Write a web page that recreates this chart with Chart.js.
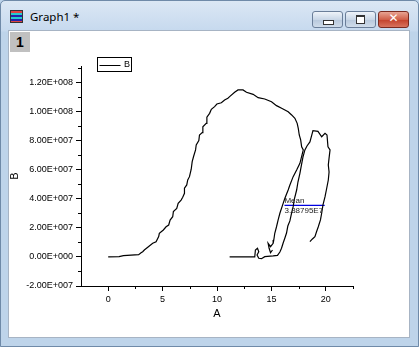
<!DOCTYPE html>
<html>
<head>
<meta charset="utf-8">
<script src="https://cdn.jsdelivr.net/npm/chart.js@4"></script>
<style>
  html, body { margin:0; padding:0; width:419px; height:347px; overflow:hidden; background:#bcd3ea; }
  #win { position:absolute; left:0; top:0; width:417px; height:345px; border:1px solid #6f8aa8; border-radius:5px 5px 0 0;
         background:linear-gradient(#dbe7f4 0px, #c6d9ee 30px, #bed4ea 31px, #bed4ea 100%); }
  #title { position:absolute; left:30px; top:9px; font:11.5px "Noto Sans","DejaVu Sans",sans-serif; color:#000; }
  #icon { position:absolute; left:10px; top:10px; width:11px; height:11px; border:1px solid #333;
          background:linear-gradient(#d44 0 2px,#2cc 2px 4px,#22a 4px 6px,#2cc 6px 8px,#22a 8px 10px,#d44 10px); }
  .btn { position:absolute; top:11px; width:29px; height:15px; border:1px solid #6a7e99; border-radius:3px;
         background:linear-gradient(#eef3f9,#c9d7e7 50%,#b7c8dc 51%,#cfdcea); }
  #bmin { left:312px; } #bmax { left:345px; }
  #bclose { left:378px; border-color:#7a2a20; background:linear-gradient(#e8a493,#d0604a 50%,#c2402a 51%,#d8735e); }
  #bmin::after { content:""; position:absolute; left:10px; top:8px; width:9px; height:3px; border:1px solid #333; background:#fff; }
  #bmax::after { content:""; position:absolute; left:10px; top:3px; width:7px; height:6px; border:1px solid #333; border-top-width:2px; background:#fff; }
  #bclose::after { content:"\2715"; position:absolute; left:0; width:29px; top:-1px; text-align:center; color:#fff; font:bold 12px "DejaVu Sans",sans-serif; }
  #page { position:absolute; left:8px; top:30px; width:400px; height:306px; background:#fff; border:1px solid #a7b4c4; }
  #tab { position:absolute; left:10px; top:32px; width:20px; height:20px; background:#c0c0c0;
         font:bold 14px "Liberation Sans",Arial,sans-serif; color:#000; text-align:center; line-height:20px; }
  #c { position:absolute; left:0; top:0; }
</style>
</head>
<body>
<div id="win"></div>
<div id="icon"></div>
<div id="title">Graph1 *</div>
<div class="btn" id="bmin"></div>
<div class="btn" id="bmax"></div>
<div class="btn" id="bclose"></div>
<div id="page"></div>
<div id="tab">1</div>
<canvas id="c" width="419" height="347"></canvas>
<script>
// ---- data ----
const seriesName = "B";
const xTitle = "A";
const yTitle = "B";

// first branch (rising bell, descending back)
const xB1 = [0, 1.0, 1.4, 2.8, 3.02, 3.17, 3.32, 3.78, 4.09, 4.40, 4.64, 4.70, 5.07, 5.32, 5.56, 5.69, 5.93, 5.99, 6.30, 6.43,
             6.70, 6.85, 7.01, 7.01, 7.22, 7.31, 7.47, 7.63, 7.72, 7.84, 8.03, 8.09, 8.33, 8.39, 8.64, 8.70, 9.01, 9.07, 9.32, 9.48,
             9.78, 9.99, 10.4, 10.7, 11.0, 11.16, 11.62, 11.93, 12.39, 12.71, 13.32, 13.78, 14.39, 15.01, 15.47, 15.94, 16.54, 16.86,
             17.16, 17.37, 17.47, 17.56, 17.69, 17.78, 17.93, 17.62, 17.32, 17.0, 16.7, 16.54, 16.24, 16.08, 15.78, 15.62, 15.47,
             15.31, 15.22, 15.16, 14.92, 14.7, 14.79, 14.92, 15.1];
const yB1 = [0, 0.02e7, 0.09e7, 0.16e7, 0.29e7, 0.36e7, 0.48e7, 0.75e7, 0.94e7, 1.05e7, 1.40e7, 1.63e7, 1.86e7, 2.08e7, 2.20e7, 2.54e7, 2.77e7, 3.12e7, 3.35e7, 3.69e7,
             3.92e7, 4.11e7, 4.38e7, 4.73e7, 4.96e7, 5.30e7, 5.53e7, 6.04e7, 6.56e7, 6.90e7, 7.37e7, 7.71e7, 8.01e7, 8.40e7, 8.56e7, 8.97e7, 9.20e7, 9.62e7, 9.89e7, 10.17e7,
             10.35e7, 10.53e7, 10.62e7, 10.81e7, 10.93e7, 11.04e7, 11.34e7, 11.50e7, 11.50e7, 11.34e7, 11.20e7, 10.97e7, 10.88e7, 10.69e7, 10.42e7, 10.24e7, 10.00e7, 9.78e7,
             9.55e7, 9.20e7, 8.86e7, 8.40e7, 8.06e7, 7.59e7, 7.37e7, 6.45e7, 5.99e7, 5.53e7, 4.96e7, 4.61e7, 4.04e7, 3.69e7, 3.01e7, 2.55e7, 2.08e7,
             1.63e7, 1.17e7, 0.94e7, 0.71e7, 0.94e7, 0.60e7, 0.29e7, 0.48e7];

// second branch (flat start, loop, rise, hook back down)
const xB2 = [11.16, 13.47, 13.53, 13.72, 13.84, 13.68, 13.84, 14.09, 14.39, 15.16, 15.56, 15.78, 15.93, 16.08, 16.24, 16.39, 16.51, 16.7,
             16.86, 17.0, 17.11, 17.32, 17.44, 17.62, 17.76, 17.9, 18.08, 18.27, 18.54, 18.82, 19.28, 19.62, 19.93, 20.11, 20.2, 20.39,
             20.3, 20.23, 20.3, 20.23, 20.07, 19.93, 19.74, 19.62, 19.51, 19.31, 19.14, 19.0, 18.77, 18.54];
const yB2 = [0, 0, 0.48e7, 0.60e7, 0.36e7, 0.13e7, -0.09e7, -0.12e7, 0.02e7, 0.07e7, 0.11e7, 0.34e7, 0.60e7, 0.96e7, 1.31e7, 1.65e7, 2.13e7, 2.48e7,
             3.03e7, 3.46e7, 3.99e7, 4.61e7, 5.16e7, 5.76e7, 6.33e7, 6.88e7, 7.37e7, 7.64e7, 7.92e7, 8.70e7, 8.65e7, 8.28e7, 8.51e7, 8.40e7, 7.59e7, 7.37e7,
             6.81e7, 6.33e7, 5.85e7, 5.30e7, 4.68e7, 4.15e7, 3.58e7, 3.01e7, 2.55e7, 2.08e7, 1.72e7, 1.40e7, 1.24e7, 1.05e7];

// mean marker
const meanX = [16.2, 19.9];
const meanY = 3.55e7;
const meanLabel = "Mean";
const meanValueText = "3.38795E7";

// axes
const xRange = [-2.5, 22.5];
const yRange = [-2e7, 1.315e8];
const xTickValues = [0, 5, 10, 15, 20];
const xTickLabels = ["0", "5", "10", "15", "20"];
const xMinorValues = [2.5, 7.5, 12.5, 17.5, 22.5];
const yTickValues = [-2e7, 0, 2e7, 4e7, 6e7, 8e7, 1e8, 1.2e8];
const yTickLabels = ["-2.00E+007", "0.00E+000", "2.00E+007", "4.00E+007", "6.00E+007", "8.00E+007", "1.00E+008", "1.20E+008"];
const yMinorValues = [-1e7, 1e7, 3e7, 5e7, 7e7, 9e7, 1.1e8, 1.3e8];

// ---- build ----
const pts = [];
xB1.forEach((x, i) => pts.push({x: x, y: yB1[i]}));
pts.push({x: 15, y: null});
xB2.forEach((x, i) => pts.push({x: x, y: yB2[i]}));

const FONT = "'Liberation Sans', Arial, sans-serif";
Chart.defaults.font.family = FONT;
Chart.defaults.font.size = 9;
Chart.defaults.color = '#000';

const extras = {
  id: 'extras',
  afterDraw(chart) {
    const ctx = chart.ctx;
    const xs = chart.scales.x, ys = chart.scales.y;
    const ca = chart.chartArea;
    ctx.save();
    ctx.strokeStyle = '#000';
    ctx.lineWidth = 1;
    ctx.beginPath();
    yMinorValues.forEach(v => {
      const p = Math.round(ys.getPixelForValue(v)) + 0.5;
      ctx.moveTo(ca.left - 3, p); ctx.lineTo(ca.left, p);
    });
    xMinorValues.forEach(v => {
      const p = Math.round(xs.getPixelForValue(v)) + 0.5;
      ctx.moveTo(p, ca.bottom); ctx.lineTo(p, ca.bottom + 3);
    });
    ctx.stroke();

    // legend box
    const lx = Math.round(ca.left + 16) + 0.5, ly = Math.round(ca.top - 9) + 0.5;
    ctx.strokeRect(lx, ly, 34, 14);
    ctx.beginPath();
    ctx.moveTo(lx + 2, ly + 8); ctx.lineTo(lx + 23, ly + 8);
    ctx.stroke();
    ctx.fillStyle = '#000';
    ctx.font = "9px " + FONT;
    ctx.textBaseline = 'middle';
    ctx.textAlign = 'left';
    ctx.fillText(seriesName, lx + 26.5, ly + 7.5);

    // mean labels
    const mx = xs.getPixelForValue(meanX[0]);
    const my = ys.getPixelForValue(meanY);
    ctx.font = "8px " + FONT;
    ctx.fillStyle = '#1a1a1a';
    ctx.textBaseline = 'bottom';
    ctx.fillText(meanLabel, mx, my - 1);
    ctx.textBaseline = 'top';
    ctx.fillText(meanValueText, mx, my + 1.5);
    ctx.restore();
  }
};

new Chart(document.getElementById('c'), {
  type: 'line',
  data: {
    datasets: [
      { label: seriesName, data: pts, borderColor: '#000', borderWidth: 1.2, pointRadius: 0, tension: 0, spanGaps: false, fill: false },
      { label: 'mean', data: meanX.map(x => ({x: x, y: meanY})), borderColor: '#0000e0', borderWidth: 1.3, pointRadius: 0, fill: false }
    ]
  },
  options: {
    responsive: false,
    animation: false,
    devicePixelRatio: 1,
    layout: { padding: { left: 0, top: 66, right: 66, bottom: 0 } },
    plugins: { legend: { display: false }, tooltip: { enabled: false } },
    scales: {
      x: {
        type: 'linear', min: xRange[0], max: xRange[1],
        afterBuildTicks: s => { s.ticks = xTickValues.map(v => ({value: v})); },
        afterFit: s => { s.height = 61; },
        ticks: { callback: v => xTickLabels[xTickValues.indexOf(v)], maxRotation: 0, autoSkip: false, padding: 3, font: { size: 9 } },
        grid: { display: true, drawOnChartArea: false, drawTicks: true, tickLength: 5, tickColor: '#000', color: '#000' },
        border: { display: true, color: '#000', width: 1 },
        title: { display: true, text: xTitle, font: { size: 11 }, padding: { top: 0, bottom: 26 } }
      },
      y: {
        type: 'linear', min: yRange[0], max: yRange[1],
        afterBuildTicks: s => { s.ticks = yTickValues.map(v => ({value: v})); },
        afterFit: s => { s.width = 81; },
        ticks: { callback: v => yTickLabels[yTickValues.indexOf(v)], autoSkip: false, padding: 3, font: { size: 9 } },
        grid: { display: true, drawOnChartArea: false, drawTicks: true, tickLength: 5, tickColor: '#000', color: '#000' },
        border: { display: true, color: '#000', width: 1 },
        title: { display: true, text: yTitle, font: { size: 11 }, padding: { top: 8, bottom: 0 } }
      }
    }
  },
  plugins: [extras]
});
</script>
</body>
</html>
